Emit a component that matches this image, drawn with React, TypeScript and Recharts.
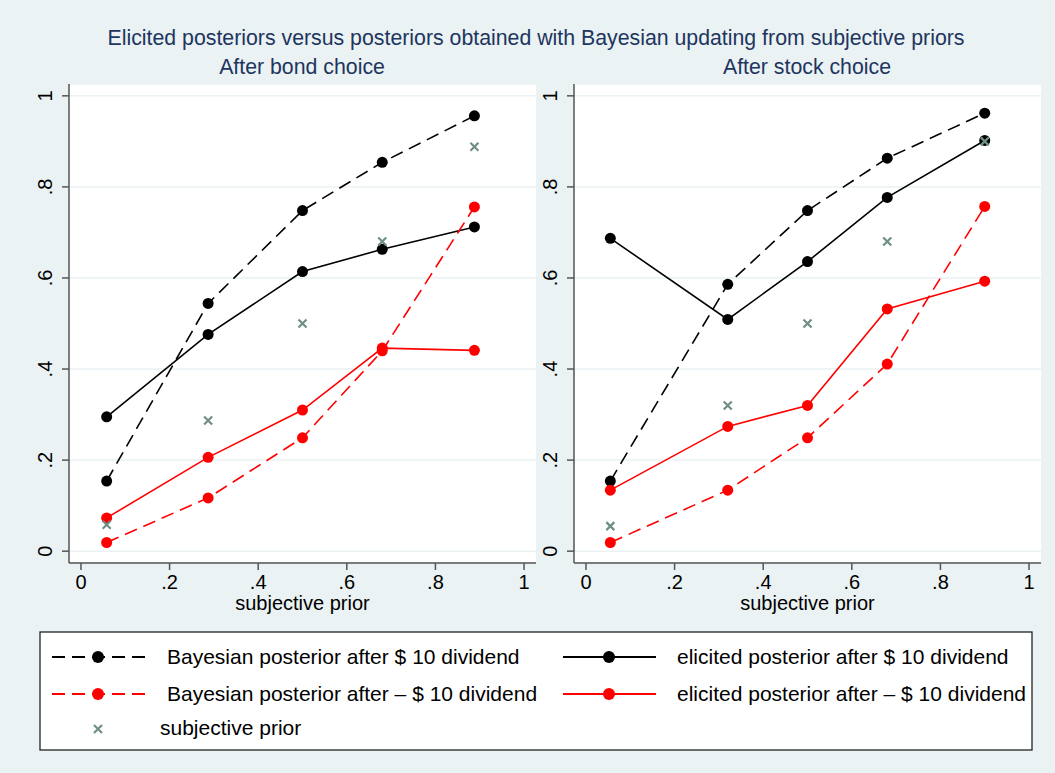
import React from 'react';
import { LineChart, Line, XAxis, YAxis, CartesianGrid } from 'recharts';

// subjective prior (x) and posteriors
const bondPrior = [0.058, 0.287, 0.5, 0.68, 0.888];
const bondBayesUp = [0.154, 0.544, 0.748, 0.854, 0.956];
const bondElicitedUp = [0.295, 0.476, 0.614, 0.663, 0.712];
const bondBayesDown = [0.019, 0.117, 0.249, 0.44, 0.756];
const bondElicitedDown = [0.073, 0.206, 0.31, 0.446, 0.441];

const stockPrior = [0.055, 0.32, 0.5, 0.68, 0.9];
const stockBayesUp = [0.154, 0.586, 0.748, 0.863, 0.962];
const stockElicitedUp = [0.687, 0.509, 0.636, 0.777, 0.902];
const stockBayesDown = [0.019, 0.134, 0.249, 0.411, 0.757];
const stockElicitedDown = [0.134, 0.274, 0.32, 0.532, 0.593];

const axisTicks = [0, 0.2, 0.4, 0.6, 0.8, 1];

const FONT = '"Liberation Sans", Arial, Helvetica, sans-serif';
const BG = '#eaf2f3';
const NAVY = '#1e3560';
const PRIOR_COLOR = '#6f8f86';
const DASH = '13 7';

function fmt(v: number) {
  if (v === 0) return '0';
  if (v === 1) return '1';
  return String(Math.round(v * 10) / 10).replace(/^0/, '');
}

function buildRows(xs: number[], bu: number[], eu: number[], bd: number[], ed: number[]) {
  return xs.map((x, i) => ({
    x,
    bayesUp: bu[i],
    elicitedUp: eu[i],
    bayesDown: bd[i],
    elicitedDown: ed[i],
    prior: x,
  }));
}

const XTick = (props: any) => {
  const { x, y, payload } = props;
  return (
    <text x={x} y={y + 19} textAnchor="middle" fontSize={20} fontFamily={FONT} fill="#000">
      {fmt(payload.value)}
    </text>
  );
};

const YTick = (props: any) => {
  const { x, y, payload } = props;
  const tx = x - 10;
  return (
    <text
      x={tx}
      y={y}
      transform={`rotate(-90, ${tx}, ${y})`}
      textAnchor="middle"
      fontSize={20}
      fontFamily={FONT}
      fill="#000"
    >
      {fmt(payload.value)}
    </text>
  );
};

const PriorMark = (props: any) => {
  const { cx, cy, index } = props;
  if (cx == null || cy == null) return <g key={index} />;
  const s = 4;
  return (
    <path
      key={index}
      d={`M${cx - s},${cy - s}L${cx + s},${cy + s}M${cx - s},${cy + s}L${cx + s},${cy - s}`}
      stroke={PRIOR_COLOR}
      strokeWidth={2.2}
      fill="none"
    />
  );
};

function Panel({ rows, left }: { rows: any[]; left: number }) {
  const dot = (c: string) => ({ r: 5.5, fill: c, stroke: c, strokeWidth: 0 });
  return (
    <div style={{ position: 'absolute', left, top: 0 }}>
      <LineChart width={546} height={620} data={rows} margin={{ top: 84, right: 10, bottom: 0, left: 0 }}>
        <CartesianGrid vertical={false} stroke={BG} strokeWidth={1.5} fill="#ffffff" />
        <XAxis
          type="number"
          dataKey="x"
          domain={[-0.027, 1.027]}
          ticks={axisTicks}
          allowDataOverflow
          height={57}
          tickSize={7}
          tickMargin={0}
          tick={<XTick />}
          axisLine={{ stroke: '#555', strokeWidth: 1.5 }}
          tickLine={{ stroke: '#555', strokeWidth: 1.5 }}
          label={{
            value: 'subjective prior',
            position: 'insideBottom',
            offset: 10,
            fontSize: 20,
            fontFamily: FONT,
            fill: '#000',
          }}
        />
        <YAxis
          type="number"
          domain={[-0.026, 1.026]}
          ticks={axisTicks}
          allowDataOverflow
          width={69}
          tickSize={7}
          tickMargin={0}
          tick={<YTick />}
          axisLine={{ stroke: '#555', strokeWidth: 1.5 }}
          tickLine={{ stroke: '#555', strokeWidth: 1.5 }}
        />
        <Line dataKey="bayesUp" stroke="#000" strokeWidth={1.6} strokeDasharray={DASH} dot={dot('#000')} activeDot={false} isAnimationActive={false} />
        <Line dataKey="elicitedUp" stroke="#000" strokeWidth={1.6} dot={dot('#000')} activeDot={false} isAnimationActive={false} />
        <Line dataKey="bayesDown" stroke="#ff0000" strokeWidth={1.6} strokeDasharray={DASH} dot={dot('#ff0000')} activeDot={false} isAnimationActive={false} />
        <Line dataKey="elicitedDown" stroke="#ff0000" strokeWidth={1.6} dot={dot('#ff0000')} activeDot={false} isAnimationActive={false} />
        <Line dataKey="prior" stroke="none" dot={(p: any) => <PriorMark key={p.index} {...p} />} activeDot={false} isAnimationActive={false} />
      </LineChart>
    </div>
  );
}

const legendItems = [
  { label: 'Bayesian posterior after $ 10 dividend', color: '#000', dashed: true, col: 0, row: 0 },
  { label: 'elicited posterior after $ 10 dividend', color: '#000', dashed: false, col: 1, row: 0 },
  { label: 'Bayesian posterior after \u2013 $ 10 dividend', color: '#ff0000', dashed: true, col: 0, row: 1 },
  { label: 'elicited posterior after \u2013 $ 10 dividend', color: '#ff0000', dashed: false, col: 1, row: 1 },
];

function Overlay() {
  const rowY = [657, 694, 729];
  const colX = [52, 563];
  return (
    <svg width={1055} height={773} style={{ position: 'absolute', left: 0, top: 0, pointerEvents: 'none' }}>
      <g fontFamily={FONT} fill={NAVY} fontSize={21.3} textAnchor="middle">
        <text x={536} y={45}>Elicited posteriors versus posteriors obtained with Bayesian updating from subjective priors</text>
        <text x={302} y={74}>After bond choice</text>
        <text x={807} y={74}>After stock choice</text>
      </g>
      <rect x={40} y={632} width={992} height={118} fill="#fff" stroke="#222" strokeWidth={1.3} />
      {legendItems.map((it) => {
        const x0 = colX[it.col];
        const y = rowY[it.row];
        return (
          <g key={it.label}>
            <line x1={x0} y1={y} x2={x0 + 93} y2={y} stroke={it.color} strokeWidth={2} strokeDasharray={it.dashed ? DASH : undefined} />
            <circle cx={x0 + 46} cy={y} r={6} fill={it.color} />
            <text x={x0 + (it.col === 0 ? 115 : 114)} y={y + 7} fontSize={21} fontFamily={FONT} fill="#000">
              {it.label}
            </text>
          </g>
        );
      })}
      <path d={`M94,${rowY[2] - 4}L102,${rowY[2] + 4}M94,${rowY[2] + 4}L102,${rowY[2] - 4}`} stroke={PRIOR_COLOR} strokeWidth={2.2} />
      <text x={160} y={rowY[2] + 6} fontSize={21} fontFamily={FONT} fill="#000">subjective prior</text>
    </svg>
  );
}

export default function App() {
  const bondRows = buildRows(bondPrior, bondBayesUp, bondElicitedUp, bondBayesDown, bondElicitedDown);
  const stockRows = buildRows(stockPrior, stockBayesUp, stockElicitedUp, stockBayesDown, stockElicitedDown);
  return (
    <div style={{ position: 'absolute', left: 0, top: 0, width: 1055, height: 773, background: BG, overflow: 'hidden' }}>
      <Panel rows={bondRows} left={0} />
      <Panel rows={stockRows} left={505} />
      <Overlay />
    </div>
  );
}
